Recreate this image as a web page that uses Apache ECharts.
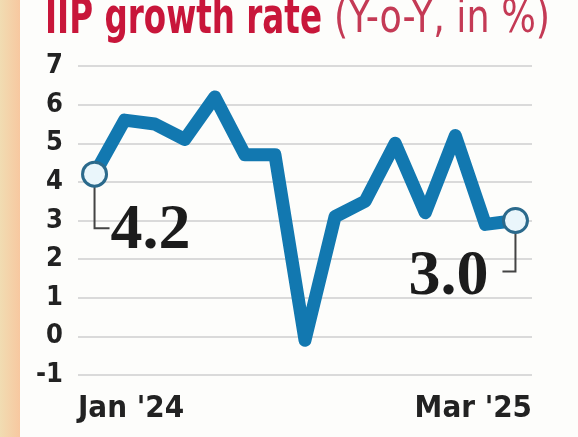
<!DOCTYPE html>
<html>
<head>
<meta charset="utf-8">
<style>
  html, body { margin: 0; padding: 0; background: #fdfdfb; }
  #chart { width: 578px; height: 437px; }
</style>
<script src="https://cdn.jsdelivr.net/npm/echarts@6/dist/echarts.min.js"></script>
</head>
<body>
<div id="chart"></div>
<script>
// Monthly IIP growth, Jan 2024 – Mar 2025 (Y-o-Y, %)
const months = ["Jan '24", "Feb '24", "Mar '24", "Apr '24", "May '24", "Jun '24", "Jul '24",
                "Aug '24", "Sep '24", "Oct '24", "Nov '24", "Dec '24", "Jan '25", "Feb '25", "Mar '25"];
const growth = [4.2, 5.6, 5.5, 5.1, 6.2, 4.7, 4.7, -0.1, 3.1, 3.5, 5.0, 3.2, 5.2, 2.9, 3.0];
const yTicks = [-1, 0, 1, 2, 3, 4, 5, 6, 7];
const titleMain = 'IIP growth rate';
const titleSub = '(Y-o-Y, in %)';

const NARROW = '"Liberation Sans Narrow", "DejaVu Sans Condensed", sans-serif';
const SERIF = '"Liberation Serif", "DejaVu Serif", serif';

const last = growth.length - 1;
const lineData = growth.map((v, i) => [i, v]);
const endData = [[0, growth[0]], [last, growth[last]]];

// Horizontal squeeze so the headline keeps its tall, condensed look
const measureCtx = document.createElement('canvas').getContext('2d');
function textWidth(text, font) {
  measureCtx.font = font;
  return measureCtx.measureText(text).width;
}
const mainFont = 'bold 49px ' + NARROW;
const subFont = 'normal 47px ' + NARROW;
const mainScale = 277 / textWidth(titleMain, mainFont);
const subScale = 216 / textWidth(titleSub, subFont);

const chart = echarts.init(document.getElementById('chart'), null, { renderer: 'canvas' });

chart.setOption({
  backgroundColor: '#fdfdfb',
  animation: false,
  grid: { left: 78, right: 46, top: 66, bottom: 62, containLabel: false },
  xAxis: {
    type: 'value',
    min: -0.55,
    max: last + 0.55,
    interval: last + 1.1,
    axisLine: { show: false },
    axisTick: { show: false },
    splitLine: { show: false },
    axisLabel: {
      margin: 18,
      fontFamily: NARROW,
      fontWeight: 'bold',
      fontSize: 31,
      color: '#222',
      alignMinLabel: 'left',
      alignMaxLabel: 'right',
      formatter: v => months[Math.min(last, Math.max(0, Math.round(v)))]
    }
  },
  yAxis: {
    type: 'value',
    min: yTicks[0],
    max: yTicks[yTicks.length - 1],
    interval: 1,
    axisLine: { show: false },
    axisTick: { show: false },
    splitLine: { lineStyle: { color: '#dadada', width: 2 } },
    axisLabel: {
      margin: 15,
      fontFamily: NARROW,
      fontWeight: 'bold',
      fontSize: 27,
      color: '#222'
    }
  },
  series: [
    {
      type: 'line',
      data: lineData,
      symbol: 'none',
      z: 3,
      lineStyle: { color: '#1278b0', width: 13, cap: 'round', join: 'round' }
    },
    {
      type: 'scatter',
      data: endData,
      symbol: 'circle',
      symbolSize: 24,
      z: 5,
      itemStyle: { color: '#eaf6fb', borderColor: '#2b6a8c', borderWidth: 3, opacity: 1 }
    }
  ]
});

// Value callouts with elbow leaders, positioned from the end points' data
const [x0, y0] = chart.convertToPixel({ seriesIndex: 0 }, endData[0]);
const [x1, y1] = chart.convertToPixel({ seriesIndex: 0 }, endData[1]);
const r = 12;
const leaderStyle = { stroke: '#444', lineWidth: 2, fill: null };
const valueFont = { fontFamily: SERIF, fontWeight: 'bold', fontSize: 64, fill: '#1c1c1c' };

chart.setOption({
  graphic: [
    {
      type: 'rect',
      left: 0, top: 0, z: -10,
      shape: { width: 20, height: 437 },
      style: {
        fill: new echarts.graphic.LinearGradient(0, 0, 1, 0, [
          { offset: 0, color: '#f1dcb2' },
          { offset: 1, color: '#f7c8a0' }
        ])
      }
    },
    {
      type: 'text', z: 10,
      x: 45, y: 20, scaleX: mainScale,
      style: { text: titleMain, font: mainFont, fill: '#c8163a', textAlign: 'left', textVerticalAlign: 'middle' }
    },
    {
      type: 'text', z: 10,
      x: 334, y: 20, scaleX: subScale,
      style: { text: titleSub, font: subFont, fill: '#c43a55', textAlign: 'left', textVerticalAlign: 'middle' }
    },
    {
      type: 'polyline', z: 4,
      shape: { points: [[x0, y0 + r], [x0, y0 + 54], [x0 + 15, y0 + 54]] },
      style: leaderStyle
    },
    {
      type: 'text', z: 4,
      x: x0 + 16, y: y0 + 89,
      style: Object.assign({ text: growth[0].toFixed(1), textAlign: 'left', textVerticalAlign: 'bottom' }, valueFont)
    },
    {
      type: 'polyline', z: 4,
      shape: { points: [[x1, y1 + r], [x1, y1 + 51], [x1 - 13, y1 + 51]] },
      style: leaderStyle
    },
    {
      type: 'text', z: 4,
      x: x1 - 27, y: y1 + 89,
      style: Object.assign({ text: growth[last].toFixed(1), textAlign: 'right', textVerticalAlign: 'bottom' }, valueFont)
    }
  ]
});
</script>
</body>
</html>
